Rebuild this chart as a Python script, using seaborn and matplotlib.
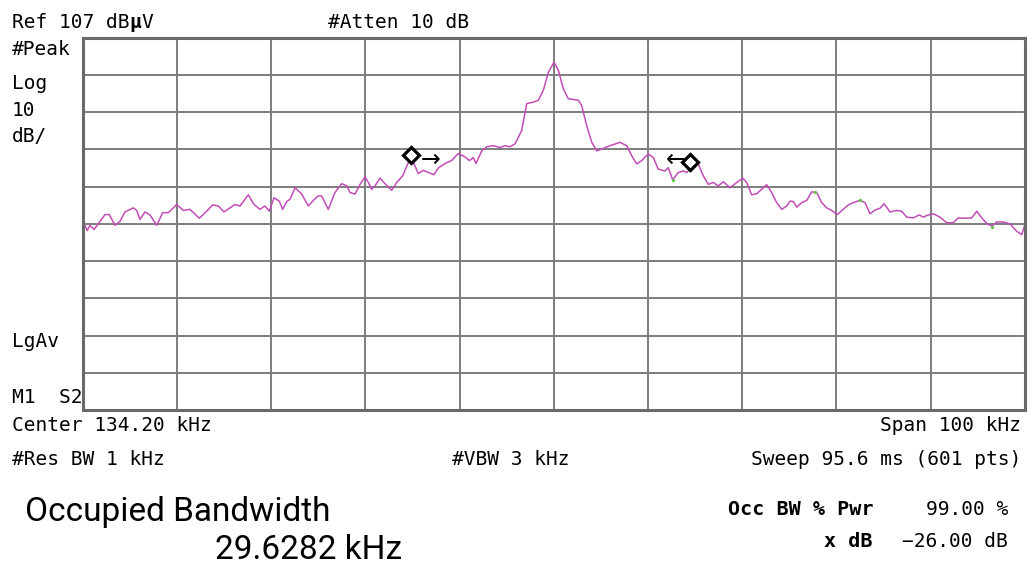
import matplotlib
matplotlib.use("Agg")
import matplotlib.pyplot as plt
import seaborn as sns
import pandas as pd

# Analyzer settings
center_khz = 134.20
span_khz = 100
ref_dbuv = 107
db_per_div = 10
n_div = 10

# Trace (kHz, dBuV)
freq_khz = [
    84.20, 84.69, 84.97, 85.40, 85.86, 86.57, 87.02, 87.63, 88.16, 88.69,
    89.57, 89.93, 90.28, 90.81, 91.34, 92.06, 92.69, 93.29, 94.18, 94.88,
    95.59, 96.58, 97.36, 98.00, 98.60, 99.20, 100.37, 100.90, 101.78, 102.39,
    103.02, 103.55, 104.01, 104.51, 105.07, 105.43, 105.86, 106.21, 106.74, 107.45,
    108.15, 108.68, 109.21, 109.57, 110.27, 110.98, 111.70, 112.23, 112.58, 113.11,
    113.64, 114.17, 114.52, 114.88, 115.23, 115.76, 116.29, 117.00, 117.53, 118.17,
    118.77, 118.95, 119.30, 119.83, 120.36, 120.89, 121.49, 121.95, 122.66, 123.37,
    124.07, 124.78, 125.24, 125.67, 125.95, 126.56, 127.09, 127.79, 128.50, 129.03,
    129.56, 130.09, 130.44, 130.80, 131.34, 132.04, 132.57, 133.10, 133.63, 134.23,
    134.69, 135.22, 135.75, 136.81, 137.17, 137.70, 138.24, 138.77, 139.30, 140.18,
    141.24, 141.95, 142.48, 143.01, 143.54, 144.24, 144.77, 145.30, 146.01, 146.37,
    146.83, 147.43, 147.96, 148.32, 148.85, 149.55, 150.08, 150.61, 151.14, 151.67,
    152.21, 152.92, 153.63, 154.27, 154.69, 155.22, 155.75, 156.28, 156.81, 157.34,
    157.87, 158.41, 158.94, 159.29, 159.64, 160.00, 160.53, 161.06, 161.59, 162.12,
    162.65, 163.18, 163.71, 164.31, 164.94, 165.48, 166.01, 166.72, 167.25, 167.78,
    168.31, 168.84, 169.27, 169.90, 170.61, 171.14, 171.68, 172.38, 173.00, 173.44,
    173.97, 174.50, 175.21, 175.92, 176.62, 177.15, 177.87, 178.58, 179.11, 179.64,
    180.17, 180.70, 181.23, 181.93, 182.64, 183.35, 183.88, 184.20,
]
level_dbuv = [
    57.7, 55.2, 56.6, 55.5, 57.0, 59.5, 59.5, 56.6, 57.7, 60.2,
    61.3, 60.6, 58.2, 60.2, 59.4, 56.6, 60.0, 60.0, 62.2, 60.6,
    60.9, 58.5, 60.4, 62.1, 61.8, 60.2, 62.2, 61.8, 64.8, 62.2,
    60.9, 61.8, 60.4, 64.0, 63.1, 60.9, 63.0, 63.6, 66.7, 65.0,
    61.8, 63.3, 64.5, 64.5, 60.9, 65.4, 67.8, 67.2, 65.4, 65.0,
    67.6, 69.6, 68.1, 66.3, 67.2, 69.3, 67.8, 66.0, 68.1, 69.9,
    73.5, 74.8, 73.5, 70.5, 71.4, 70.8, 70.2, 72.0, 73.2, 74.0,
    75.9, 75.0, 74.0, 74.8, 73.2, 76.6, 77.7, 78.0, 77.5, 78.0,
    77.7, 78.5, 80.2, 82.1, 89.3, 89.7, 90.2, 92.9, 97.7, 100.4,
    98.3, 93.3, 90.6, 90.2, 88.8, 83.4, 78.9, 76.6, 77.1, 78.0,
    78.9, 78.0, 75.3, 73.1, 74.0, 75.8, 74.8, 71.7, 71.2, 72.1,
    68.8, 70.8, 71.2, 70.8, 72.1, 73.1, 69.9, 67.6, 68.1, 67.2,
    68.3, 66.7, 68.1, 69.3, 68.1, 64.8, 65.1, 66.3, 67.5, 65.4,
    62.7, 60.9, 61.8, 63.1, 63.0, 61.5, 62.7, 63.3, 65.6, 65.4,
    62.7, 61.3, 60.6, 59.5, 60.9, 62.1, 62.7, 63.3, 62.7, 59.7,
    60.7, 61.2, 62.4, 60.2, 60.6, 60.4, 58.8, 58.6, 59.4, 58.8,
    59.4, 59.7, 58.8, 57.3, 57.3, 58.6, 58.5, 58.6, 60.4, 58.6,
    57.1, 56.4, 57.5, 57.5, 57.0, 55.0, 54.1, 56.6,
]

# Occupied-bandwidth edge markers
obw_khz = [119.00, 148.63]
obw_dbuv = [75.6, 73.5]

# Few green dots of the second trace
aux_khz = [146.83, 161.90, 166.70, 180.70]
aux_dbuv = [68.8, 65.6, 63.3, 56.1]

trace = pd.DataFrame({"freq": freq_khz, "level": level_dbuv})

sns.set_theme(style="white", rc={"axes.spines.top": True, "axes.spines.right": True})
plt.rcParams["font.family"] = ["DejaVu Sans Mono"]
plt.rcParams["text.color"] = "black"

W, H = 1028, 566
fig = plt.figure(figsize=(W / 100, H / 100), dpi=100)
fig.patch.set_facecolor("white")

left, right, top, bottom = 82.7, 1024.7, 37.7, 410.0
ax = fig.add_axes([left / W, 1 - bottom / H, (right - left) / W, (bottom - top) / H])

sns.lineplot(data=trace, x="freq", y="level", ax=ax, color="#c24db6",
             linewidth=1.1, estimator=None, sort=False)
sns.scatterplot(x=aux_khz, y=aux_dbuv, ax=ax, color="#6cc24a", s=6,
                linewidth=0, zorder=4)
ax.plot(obw_khz, obw_dbuv, linestyle="none", marker="D", markersize=8.5,
        markerfacecolor="white", markeredgecolor="black", markeredgewidth=2.3,
        zorder=5)
ax.annotate("→", (obw_khz[0], obw_dbuv[0]), xytext=(20, -5),
            textcoords="offset pixels", ha="center", va="center",
            fontsize=17, family="DejaVu Sans", color="black")
ax.annotate("←", (obw_khz[1], obw_dbuv[1]), xytext=(-14, 3),
            textcoords="offset pixels", ha="center", va="center",
            fontsize=17, family="DejaVu Sans", color="black")

lo = center_khz - span_khz / 2
ax.set_xlim(lo, lo + span_khz)
ax.set_ylim(ref_dbuv - n_div * db_per_div, ref_dbuv)
ax.set_xticks([lo + i * span_khz / n_div for i in range(n_div + 1)])
ax.set_yticks([ref_dbuv - i * db_per_div for i in range(n_div + 1)])
ax.tick_params(length=0, labelbottom=False, labelleft=False)
ax.set_xlabel("")
ax.set_ylabel("")
ax.grid(True, color="#7d7d7d", linewidth=1.4)
for sp in ax.spines.values():
    sp.set_color("#6a6a6a")
    sp.set_linewidth(2.2)


def put(x, y, s, ha="left", size=14, weight="normal", family=None):
    kw = {}
    if family:
        kw["family"] = family
    fig.text(x / W, 1 - y / H, s, ha=ha, va="baseline", fontsize=size,
             fontweight=weight, color="black", **kw)


# header / side annotations
put(12, 28, "Ref 107 dB")
put(129, 28, "µ", weight="bold")
put(141, 28, "V")
put(328, 28, "#Atten 10 dB")
put(12, 55, "#Peak")
put(12, 89, "Log")
put(12, 116, "10")
put(12, 142, "dB/")
put(12, 347, "LgAv")
put(12, 403, "M1  S2")

# footer
put(12, 431, "Center 134.20 kHz")
put(1021, 431, "Span 100 kHz", ha="right")
put(12, 465, "#Res BW 1 kHz")
put(452, 465, "#VBW 3 kHz")
put(1021, 465, "Sweep 95.6 ms (601 pts)", ha="right")

put(25, 521, "Occupied Bandwidth", size=24, family="Roboto")
put(215, 559, "29.6282 kHz", size=24, family="Roboto")

put(873, 515, "Occ BW % Pwr", ha="right", size=14.5, weight="bold")
put(1008, 515, "99.00 %", ha="right")
put(873, 547, "x dB", ha="right", size=14.5, weight="bold")
put(1008, 547, "−26.00 dB", ha="right")

fig.savefig("out.png", dpi=100, facecolor="white")
